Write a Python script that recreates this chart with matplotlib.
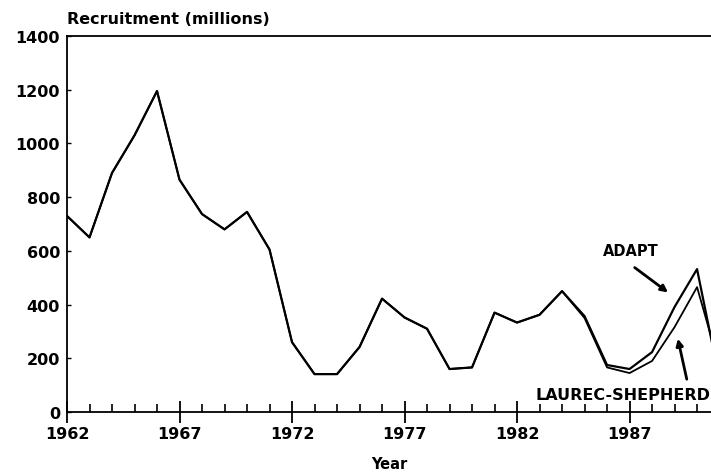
import numpy as np
from matplotlib import pyplot as plt
from matplotlib.ticker import MultipleLocator

plt.rcParams['font.family'] = ['DejaVu Sans']
plt.rcParams['font.weight'] = 'bold'

years = list(range(1962, 1992))
adapt = [730, 650, 890, 1030, 1195, 865, 737, 680, 745, 605,
         260, 141, 141, 242, 422, 352, 310, 160, 166, 370,
         333, 362, 450, 357, 175, 160, 223, 391, 532, 120]
laurec = [730, 650, 890, 1030, 1195, 865, 737, 680, 745, 605,
          260, 141, 141, 242, 422, 352, 310, 160, 166, 370,
          333, 362, 450, 350, 166, 145, 190, 316, 465, 170]
x_ticks = [1962, 1967, 1972, 1977, 1982, 1987]
y_ticks = [0, 200, 400, 600, 800, 1000, 1200, 1400]

fig = plt.figure(figsize=(7.11, 4.77), dpi=100)
ax = fig.add_axes([67 / 711, 1 - 413 / 477, 1 - 67 / 711, (413 - 37) / 477])

ax.plot(years, adapt, color='black', lw=1.6)
ax.plot(years, laurec, color='black', lw=1.3)

ax.set_xlim(1962, 1990.62)
ax.set_ylim(0, 1400)
ax.set_xticks(x_ticks)
ax.set_yticks(y_ticks)
ax.xaxis.set_minor_locator(MultipleLocator(1))
ax.tick_params(axis='x', which='major', direction='inout', length=16, width=1.3,
               labelsize=11.5, pad=2)
ax.tick_params(axis='x', which='minor', direction='in', length=6, width=1.2)
ax.tick_params(axis='y', which='major', direction='in', length=3, width=1,
               labelsize=11.5, pad=5)
for lab in ax.get_xticklabels() + ax.get_yticklabels():
    lab.set_fontweight('bold')

ax.spines['right'].set_visible(False)
for s in ['left', 'bottom', 'top']:
    ax.spines[s].set_linewidth(1.3)

ax.set_xlabel('Year', fontsize=10.5, fontweight='bold', labelpad=11)
fig.text(67 / 711, 1 - 20 / 477, 'Recruitment (millions)', fontsize=11.5,
         fontweight='bold', ha='left', va='center')

ax.text(1987.04, 600, 'ADAPT', fontsize=10.5, fontweight='bold', ha='center', va='center')
ax.annotate('', xy=(1988.81, 439), xytext=(1987.13, 544),
            arrowprops=dict(arrowstyle='-|>', color='black', lw=2, mutation_scale=10))
ax.text(1982.8, 67, 'LAUREC-SHEPHERD', fontsize=11.5, fontweight='bold', ha='left',
        va='center', clip_on=False)
ax.annotate('', xy=(1989.12, 283), xytext=(1989.57, 112),
            arrowprops=dict(arrowstyle='-|>', color='black', lw=2, mutation_scale=10))

fig.savefig('out.png', dpi=100)
